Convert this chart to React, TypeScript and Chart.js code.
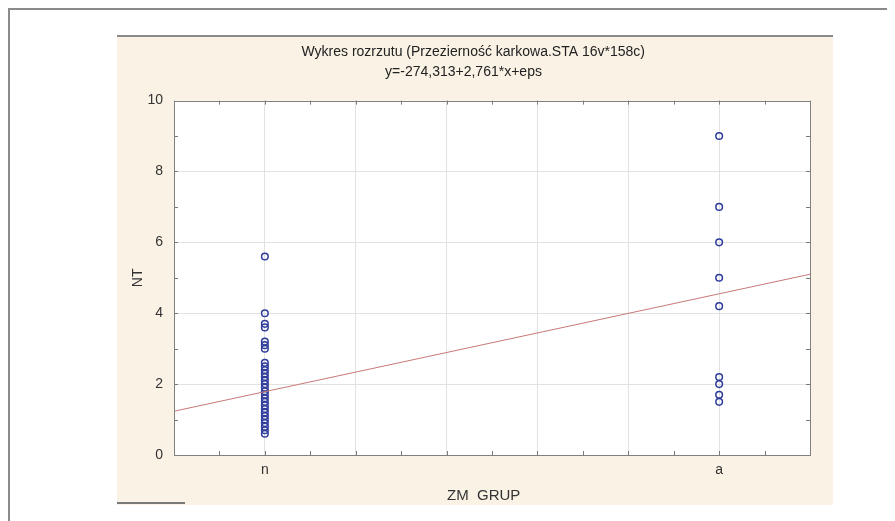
import React, { useEffect, useRef } from 'react';
import { Chart, registerables } from 'chart.js';

Chart.register(...registerables);

const TITLE = '     Wykres rozrzutu (Przezierność karkowa.STA 16v*158c)';
const SUBTITLE = 'y=-274,313+2,761*x+eps';
const X_TITLE = 'ZM  GRUP    ';
const Y_TITLE = 'NT';

const GROUP_CODES = [100, 101];
const GROUP_LABELS = ['n', 'a'];

const N_VALUES = [5.6, 4.0, 3.7, 3.6, 3.2, 3.1, 3.0, 2.6, 2.5, 2.4, 2.3, 2.2, 2.1, 2.0, 1.9, 1.8, 1.7, 1.6, 1.5, 1.4, 1.3, 1.2, 1.1, 1.0, 0.9, 0.8, 0.7, 0.6];
const A_VALUES = [9.0, 7.0, 6.0, 5.0, 4.2, 2.2, 2.0, 1.7, 1.5];

const INTERCEPT = -274.313;
const SLOPE = 2.761;
const X_MIN = 99.8;
const X_MAX = 101.2;
const Y_MIN = 0;
const Y_MAX = 10;

const FONT = 'Liberation Sans, Arial, sans-serif';

const frameTicks = {
  id: 'frameTicks',
  beforeDraw(chart: any) {
    const { ctx, chartArea: a } = chart;
    ctx.save();
    ctx.fillStyle = '#ffffff';
    ctx.fillRect(a.left, a.top, a.right - a.left, a.bottom - a.top);
    ctx.restore();
  },
  afterDatasetsDraw(chart: any) {
    const { ctx, chartArea: a, scales } = chart;
    ctx.save();
    ctx.strokeStyle = '#7a7a7a';
    ctx.lineWidth = 1;
    ctx.beginPath();
    const len = 4;
    scales.y.ticks.forEach((t: any) => {
      const p = Math.round(scales.y.getPixelForValue(t.value)) + 0.5;
      ctx.moveTo(a.left, p); ctx.lineTo(a.left + len, p);
      ctx.moveTo(a.right, p); ctx.lineTo(a.right - len, p);
    });
    scales.x.ticks.forEach((t: any) => {
      const p = Math.round(scales.x.getPixelForValue(t.value)) + 0.5;
      ctx.moveTo(p, a.bottom); ctx.lineTo(p, a.bottom - len);
      ctx.moveTo(p, a.top); ctx.lineTo(p, a.top + len);
    });
    ctx.stroke();
    ctx.strokeStyle = '#808080';
    ctx.strokeRect(Math.round(a.left) + 0.5, Math.round(a.top) + 0.5, Math.round(a.right - a.left), Math.round(a.bottom - a.top));
    ctx.restore();
  },
};

function labelFor(v: number): string {
  for (let i = 0; i < GROUP_CODES.length; i++) {
    if (Math.abs(v - GROUP_CODES[i]) < 1e-6) return GROUP_LABELS[i];
  }
  return '';
}

export default function App() {
  const ref = useRef<HTMLCanvasElement | null>(null);

  useEffect(() => {
    if (!ref.current) return;
    const nPoints = N_VALUES.map((y) => ({ x: GROUP_CODES[0], y }));
    const aPoints = A_VALUES.map((y) => ({ x: GROUP_CODES[1], y }));
    const linePoints = [X_MIN, X_MAX].map((x) => ({ x, y: INTERCEPT + SLOPE * x }));

    const chart = new Chart(ref.current, {
      type: 'scatter',
      data: {
        datasets: [
          {
            type: 'line',
            data: linePoints,
            borderColor: '#c87878',
            borderWidth: 1,
            pointRadius: 0,
            fill: false,
          } as any,
          {
            data: [...nPoints, ...aPoints],
            pointRadius: 3.3,
            pointBorderWidth: 1.5,
            borderColor: '#2e3c9c',
            backgroundColor: 'rgba(0,0,0,0)',
            pointBackgroundColor: 'rgba(0,0,0,0)',
          } as any,
        ],
      },
      options: {
        animation: false,
        responsive: false,
        maintainAspectRatio: false,
        layout: { padding: { left: 0, right: 23, top: 0, bottom: 0 } },
        plugins: {
          legend: { display: false },
          tooltip: { enabled: false },
          title: {
            display: true,
            text: TITLE,
            color: '#222',
            font: { family: FONT, size: 14, weight: 'normal' },
            padding: { top: 9, bottom: 3 },
          },
          subtitle: {
            display: true,
            text: SUBTITLE,
            color: '#222',
            font: { family: FONT, size: 14, weight: 'normal' },
            padding: { top: 0, bottom: 20 },
          },
        },
        scales: {
          x: {
            type: 'linear',
            min: X_MIN,
            max: X_MAX,
            afterFit: (s: any) => { s.height = 50; },
            ticks: {
              stepSize: 0.1,
              autoSkip: false,
              maxRotation: 0,
              padding: 7,
              color: '#333',
              font: { family: FONT, size: 14 },
              callback: (v: any) => labelFor(Number(v)),
            },
            grid: {
              drawTicks: false,
              color: (c: any) => {
                const v = c.tick ? c.tick.value : 0;
                const k = Math.round((v - X_MIN) * 10);
                if (k <= 0 || k >= 14) return 'rgba(0,0,0,0)';
                return k % 2 === 0 ? '#e2e2e2' : 'rgba(0,0,0,0)';
              },
            },
            border: { display: false },
            title: {
              display: true,
              text: X_TITLE,
              color: '#333',
              font: { family: FONT, size: 15 },
              padding: { top: 0, bottom: 0 },
            },
          },
          y: {
            type: 'linear',
            min: Y_MIN,
            max: Y_MAX,
            afterFit: (s: any) => { s.width = 57; },
            ticks: {
              stepSize: 1,
              padding: 11,
              color: '#333',
              font: { family: FONT, size: 14 },
              callback: (v: any) => (Number(v) % 2 === 0 ? String(v) : ''),
            },
            grid: {
              drawTicks: false,
              color: (c: any) => {
                const v = c.tick ? c.tick.value : 0;
                if (v <= Y_MIN || v >= Y_MAX) return 'rgba(0,0,0,0)';
                return v % 2 === 0 ? '#e2e2e2' : 'rgba(0,0,0,0)';
              },
            },
            border: { display: false },
            title: {
              display: true,
              text: Y_TITLE,
              color: '#333',
              font: { family: FONT, size: 14 },
              padding: { top: 13, bottom: 0 },
            },
          },
        },
      },
      plugins: [frameTicks],
    });
    return () => chart.destroy();
  }, []);

  return (
    <div style={{ position: 'relative', width: 887, height: 513, overflow: 'hidden' }}>
      <div style={{ position: 'absolute', left: 0, top: 0, right: 0, bottom: 0, borderTop: '2px solid #8a8a8a', borderLeft: '2px solid #8a8a8a' }} />
      <div style={{ position: 'absolute', left: 109, top: 27, width: 716, height: 470, background: '#f9f2e5' }}>
        <canvas ref={ref} width={716} height={470} style={{ position: 'absolute', left: 0, top: 0 }} />
        <div style={{ position: 'absolute', left: 0, top: 0, width: 716, height: 2, background: '#8a8a8a' }} />
      </div>
      <div style={{ position: 'absolute', left: 109, top: 494, width: 68, height: 2, background: '#7a7a7a' }} />
    </div>
  );
}
